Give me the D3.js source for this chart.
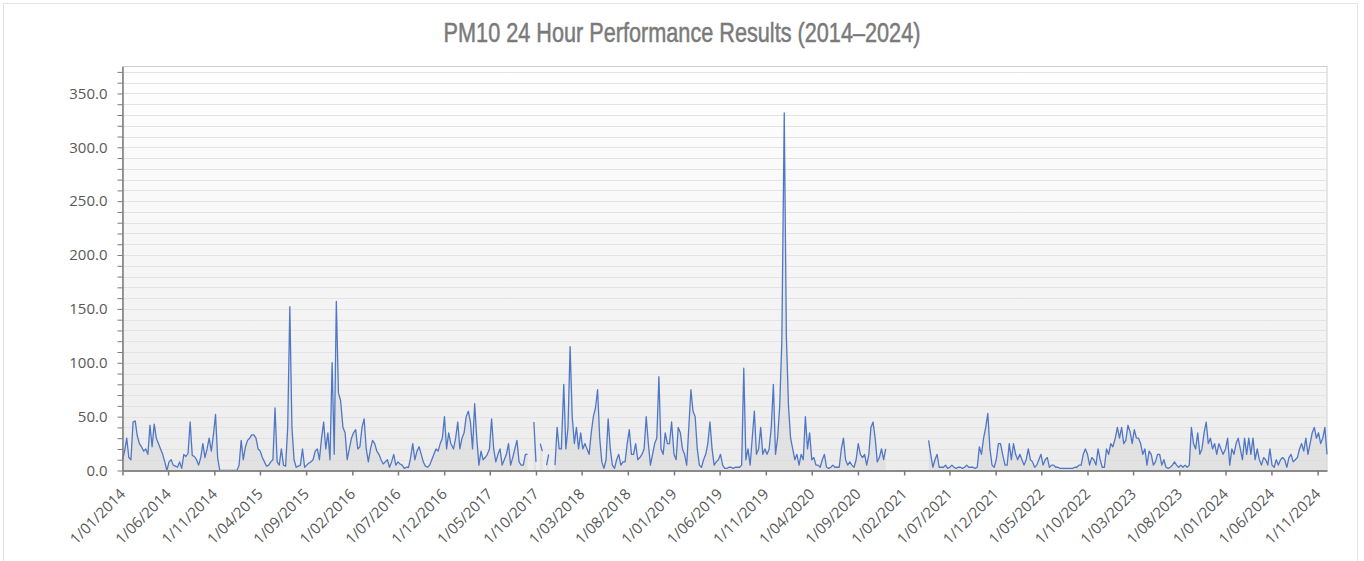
<!DOCTYPE html>
<html>
<head>
<meta charset="utf-8">
<script src="https://cdnjs.cloudflare.com/ajax/libs/d3/7.8.5/d3.min.js"></script>
<style>
  body { margin: 0; background: #fff; }
  .lbl { font-family: "Open Sans", "Noto Sans", sans-serif; font-size: 15px; fill: #595959; }
  .title { font-family: "Liberation Sans Narrow", "Liberation Sans", sans-serif; font-size: 27px; fill: #7a7a7a; stroke: #7a7a7a; stroke-width: 0.5px; }
</style>
</head>
<body>
<div id="chart"></div>
<script>
// PM10 24h results at roughly weekly spacing (null = no data)
var pm2014 = [10,18,30,12,10,45,46,32,25,22, 18,20,15,42,22,43,30,25,20,15, 8,0,8,10,5,4,3,8,2,15,
  13,16,45,14,13,10,5,12,25,12, 20,30,18,33,52,12,0,0,0,0, 0,0];
var pm2015 = [0,0,0,5,28,10,22,28,30,33, 33,30,20,18,12,8,4,5,8,10, 58,8,5,20,5,4,40,152,40,10,
  3,4,5,20,3,5,7,8,10,18, 20,10,30,45,20,35,10,100,15,157, 72,65];
var pm2016 = [40,35,10,20,30,35,38,20,22,40, 48,20,8,20,28,25,18,15,10,6, 8,10,3,8,15,5,8,6,5,2,
  3,3,12,25,10,18,22,15,8,4, 3,5,10,15,20,18,25,30,50,20, 35,25];
var pm2017 = [20,30,45,20,30,35,50,55,45,20, 62,30,5,18,10,12,15,20,48,20, 8,15,20,5,10,15,25,5,12,20,
  28,8,5,5,15,15,null,null,45,8, null,25,18,null,5,15,null,null,5,40, 20,20];
var pm2018 = [80,20,40,115,50,25,40,20,35,20, 25,20,15,35,50,58,75,30,8,2, 10,48,20,5,2,10,15,5,8,8,
  25,38,15,15,25,10,12,15,20,50, 25,5,15,25,30,87,20,15,35,25, 25,45];
var pm2019 = [15,10,40,35,20,15,5,40,75,55, 50,20,5,3,10,15,25,45,20,5, 8,10,15,5,2,2,3,3,2,3,
  3,3,5,95,10,20,5,30,55,15, 20,40,15,20,15,20,40,80,15,30, 60,120];
var pm2020 = [332,125,60,30,20,10,15,5,15,10, 50,20,35,10,12,5,5,3,10,15, 3,2,3,5,3,3,3,20,30,10,
  5,8,5,3,10,25,15,12,15,5, 15,40,45,30,8,12,20,10,20,null, null,null];
var pm2021 = [null,null,null,null,null,null,null,null,null,null, null,null,null,null,null,null,28,15,3,10,
  15,3,3,3,5,2,3,5,3,2, 3,3,2,3,5,3,3,3,2,3, 22,15,30,40,53,20,5,3,10,25, 25,15];
var pm2022 = [5,5,25,10,25,15,10,15,10,5, 10,20,10,8,3,5,10,15,5,10, 12,3,5,5,3,3,2,2,2,2,
  2,2,2,3,3,5,5,15,20,15, 5,12,10,5,20,10,3,3,20,15, 25,22];
var pm2023 = [30,40,30,40,25,28,42,36,25,38, 30,30,25,15,20,5,18,15,5,8, 15,15,5,10,3,2,3,5,8,5,
  3,5,3,5,3,5,40,25,20,35, 15,20,35,45,25,30,20,25,15,25, 20,15];
var pm2024 = [20,30,5,20,15,25,30,20,10,30, 15,30,15,30,10,20,10,5,12,10, 5,20,5,3,10,5,10,12,10,3,
  12,15,8,10,12,20,25,18,30,15, 25,35,40,30,35,25,30,40,15];

var years = [2014, 2015, 2016, 2017, 2018, 2019, 2020, 2021, 2022, 2023, 2024];
var series = [pm2014, pm2015, pm2016, pm2017, pm2018, pm2019, pm2020, pm2021, pm2022, pm2023, pm2024];

var xTickLabels = ["1/01/2014","1/06/2014","1/11/2014","1/04/2015","1/09/2015","1/02/2016","1/07/2016",
  "1/12/2016","1/05/2017","1/10/2017","1/03/2018","1/08/2018","1/01/2019","1/06/2019","1/11/2019",
  "1/04/2020","1/09/2020","1/02/2021","1/07/2021","1/12/2021","1/05/2022","1/10/2022","1/03/2023",
  "1/08/2023","1/01/2024","1/06/2024","1/11/2024"];
var yTickValues = [0, 50, 100, 150, 200, 250, 300, 350];

var title = "PM10 24 Hour Performance Results (2014\u20132024)";

// flatten into dated points
var data = [];
series.forEach(function (arr, i) {
  arr.forEach(function (v, k) {
    data.push({ date: new Date(years[i], 0, 1 + 7 * k), value: v });
  });
});

var W = 1364, H = 561;
var pL = 122.5, pR = 1327, pT = 66.5, pB = 470.5;

var svg = d3.select("#chart").append("svg").attr("width", W).attr("height", H);

// outer frame
svg.append("rect").attr("x", 3.5).attr("y", 3.5).attr("width", 1354).attr("height", 580)
  .attr("fill", "#fff").attr("stroke", "#e3e3e3");

var tt = svg.append("text").attr("class", "title").attr("text-anchor", "middle").text(title);
// squeeze to the narrow width of the original title
var tw = tt.node().getComputedTextLength();
var sx = 477 / tw;
tt.attr("transform", "translate(682,42) scale(" + sx + ",1)");

var x = d3.scaleTime().domain([new Date(2014, 0, 1), new Date(2024, 11, 2)]).range([pL, pR]);
var y = d3.scaleLinear().domain([0, 375]).range([pB, pT]);

// plot background gradient
var defs = svg.append("defs");
var grad = defs.append("linearGradient").attr("id", "bg").attr("x1", 0).attr("x2", 0).attr("y1", 0).attr("y2", 1);
grad.append("stop").attr("offset", "0%").attr("stop-color", "#ffffff");
grad.append("stop").attr("offset", "100%").attr("stop-color", "#ececec");

svg.append("rect").attr("x", pL).attr("y", pT).attr("width", pR - pL).attr("height", pB - pT)
  .attr("fill", "url(#bg)").attr("stroke", "#cfcfcf");

// grid every 10
var gridVals = d3.range(10, 376, 10);
svg.append("g").selectAll("line").data(gridVals).enter().append("line")
  .attr("x1", pL).attr("x2", pR)
  .attr("y1", function (d) { return Math.round(y(d)) + 0.5; })
  .attr("y2", function (d) { return Math.round(y(d)) + 0.5; })
  .attr("stroke", "#e3e3e3");

// grey area under the line
var area = d3.area()
  .defined(function (d) { return d.value != null; })
  .x(function (d) { return x(d.date); })
  .y0(y(0))
  .y1(function (d) { return y(d.value); });

svg.append("path").datum(data).attr("d", area).attr("fill", "#d9d9d9").attr("opacity", 0.55);

var line = d3.line()
  .defined(function (d) { return d.value != null; })
  .x(function (d) { return x(d.date); })
  .y(function (d) { return y(d.value); });

svg.append("path").datum(data).attr("d", line)
  .attr("fill", "none").attr("stroke", "#5077c6").attr("stroke-width", 1.3)
  .attr("stroke-linejoin", "round");

// y axis
var fmtY = d3.format(".1f");
var yAxis = d3.axisLeft(y).tickValues(d3.range(0, 371, 10)).tickSize(5).tickSizeOuter(0)
  .tickFormat(function (d) { return yTickValues.indexOf(d) >= 0 ? fmtY(d) : ""; });
var gy = svg.append("g").attr("transform", "translate(" + pL + ",0)").call(yAxis);
gy.select(".domain").attr("stroke", "#7a7a7a").attr("stroke-width", 1.5);
gy.selectAll(".tick line").attr("stroke", "#7a7a7a");
gy.selectAll(".tick text").attr("class", "lbl").attr("x", -15).attr("dy", "0.32em");

// x axis
var parse = d3.timeParse("%d/%m/%Y");
var tickDates = xTickLabels.map(parse);
var xAxis = d3.axisBottom(x).tickValues(tickDates).tickSize(5).tickSizeOuter(0)
  .tickFormat(function (d, i) { return xTickLabels[i]; });
var gx = svg.append("g").attr("transform", "translate(0," + pB + ")").call(xAxis);
gx.select(".domain").attr("stroke", "#8a8a8a").attr("stroke-width", 2);
gx.selectAll(".tick line").attr("stroke", "#7a7a7a").attr("stroke-width", 1.5);
gx.selectAll(".tick text").attr("class", "lbl")
  .attr("text-anchor", "end")
  .attr("transform", "translate(-4,17) rotate(-45)")
  .attr("x", 0).attr("y", 0).attr("dy", "0.7em");
</script>
</body>
</html>
